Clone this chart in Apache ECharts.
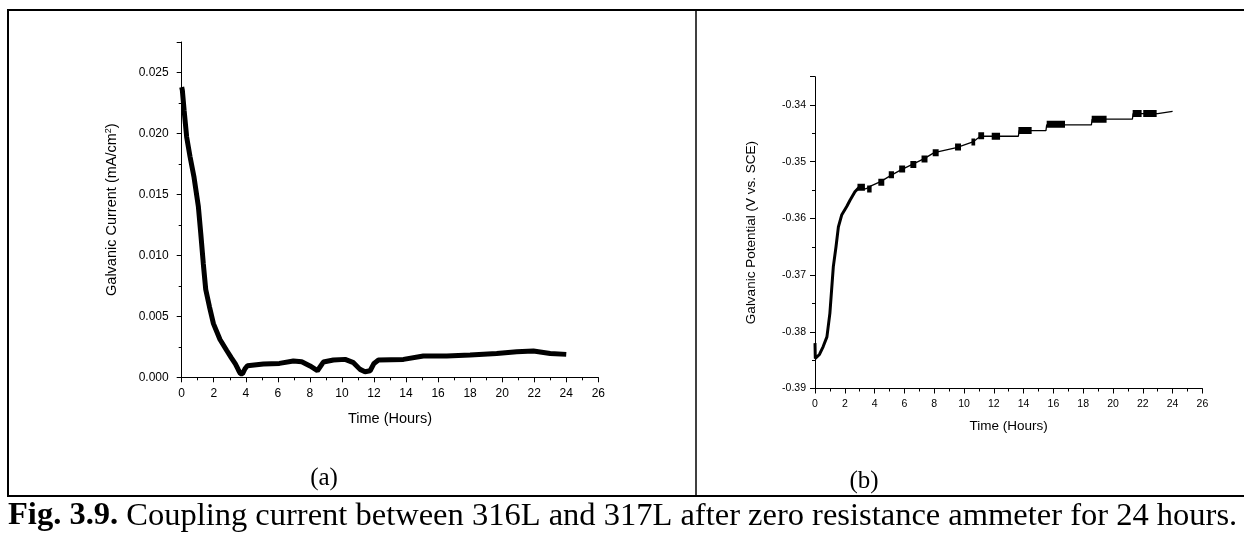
<!DOCTYPE html>
<html lang="en">
<head>
    <meta charset="UTF-8">
    <title>Fig 3.9</title>
    <style>
        html, body { margin: 0; padding: 0; background: #fff; }
    </style>
</head>
<body>
    <div id="main" style="width: 1244px;height:536px;"></div>
    <script src="https://cdn.jsdelivr.net/npm/echarts@6/dist/echarts.min.js"></script>
    <script type="text/javascript">
       // (a) galvanic current
       var curHours = [0, 0.04, 0.15, 0.31, 0.52, 0.77, 1.04, 1.19, 1.35, 1.5, 1.73, 1.98, 2.39, 2.81, 3.1, 3.35, 3.54, 3.66, 3.8, 3.95, 4.1, 5.1, 6.1, 6.97, 7.49, 8.01, 8.47, 8.84, 9.47, 10.2, 10.72, 11.13, 11.44, 11.76, 12.0, 12.28, 13.84, 15.08, 16.54, 18.0, 19.66, 20.91, 21.95, 23.0, 24.0];
       var curValues = [0.0238, 0.02355, 0.0219, 0.0197, 0.0181, 0.0164, 0.014, 0.0118, 0.0093, 0.0072, 0.0058, 0.0044, 0.0031, 0.0022, 0.0016, 0.0011, 0.0006, 0.0003, 0.0003, 0.0007, 0.00095, 0.00109, 0.00114, 0.00134, 0.00128, 0.00093, 0.00054, 0.00125, 0.00142, 0.00147, 0.0012, 0.00065, 0.00046, 0.00054, 0.00114, 0.00142, 0.00147, 0.00175, 0.00175, 0.00183, 0.00196, 0.0021, 0.00215, 0.00196, 0.00188];

       // (b) galvanic potential
       var potHours = [0, 0.02, 0.3, 0.55, 0.8, 1.0, 1.23, 1.41, 1.57, 1.79, 2.13, 2.35, 2.68, 3.0, 3.4, 3.65, 4.4, 5.1, 5.8, 6.5, 7.3, 8.0, 9.5, 10.6, 11.1, 13.65, 13.7, 15.5, 15.55, 18.55, 18.6, 21.3, 21.35, 23.0, 24.0];
       var potValues = [-0.382, -0.3847, -0.384, -0.3826, -0.3809, -0.3767, -0.3685, -0.365, -0.3615, -0.3594, -0.3579, -0.3568, -0.3553, -0.3544, -0.3548, -0.3544, -0.3535, -0.3524, -0.3514, -0.3505, -0.3495, -0.3484, -0.3475, -0.3465, -0.3455, -0.3455, -0.3445, -0.3445, -0.3435, -0.3435, -0.3425, -0.3425, -0.3415, -0.3415, -0.3411];
       // places where the reading flickers between two levels (start, end, level)
       var blockStart = [2.85, 3.5, 4.25, 4.95, 5.65, 6.4, 7.15, 7.9, 9.4, 10.5, 10.96, 11.86, 13.65, 15.55, 18.57, 21.32, 22.03];
       var blockEnd = [3.35, 3.8, 4.65, 5.3, 6.05, 6.8, 7.55, 8.3, 9.8, 10.75, 11.35, 12.42, 14.54, 16.78, 19.57, 21.92, 22.93];
       var blockLevel = [-0.3545, -0.3548, -0.3536, -0.3523, -0.3513, -0.3505, -0.3495, -0.3484, -0.3474, -0.3465, -0.3454, -0.3455, -0.3445, -0.3434, -0.3425, -0.3415, -0.3415];

       var hourTicks = 2;

       function pairs(xs, ys) {
           return xs.map(function (x, i) { return [x, ys[i]]; });
       }
       var blockData = [];
       blockStart.forEach(function (s, i) {
           blockData.push([s, blockLevel[i]], [blockEnd[i], blockLevel[i]], null);
       });

       var sans = 'Liberation Sans, Arial, sans-serif';
       var serif = 'Liberation Serif, Times New Roman, serif';

       function xAx(gi, fs, nameFs, margin, gap) {
           return {
               gridIndex: gi, type: 'value', min: 0, max: 26, interval: hourTicks,
               name: 'Time (Hours)', nameLocation: 'middle', nameGap: gap,
               nameTextStyle: { color: '#000', fontFamily: sans, fontSize: nameFs },
               axisLine: { show: true, onZero: false, lineStyle: { color: '#000', width: 1 } },
               axisTick: { show: true, inside: false, length: 5, lineStyle: { color: '#000' } },
               minorTick: { show: true, splitNumber: 2, length: 3, lineStyle: { color: '#000' } },
               axisLabel: { color: '#000', fontFamily: sans, fontSize: fs, margin: margin },
               splitLine: { show: false }
           };
       }

       var myChart = echarts.init(document.getElementById('main'));
       var option = {
           animation: false,
           backgroundColor: '#fff',
           grid: [
               { left: 181.7, top: 42, width: 416.6, height: 335.3 },
               { left: 815, top: 76.7, width: 387.4, height: 311.8 }
           ],
           xAxis: [xAx(0, 12, 14.5, 10, 34), xAx(1, 10.5, 13.5, 10, 31)],
           yAxis: [{
               gridIndex: 0, type: 'value', min: 0, max: 0.0275, interval: 0.005,
               name: 'Galvanic Current (mA/cm{sup|2})', nameLocation: 'middle', nameGap: 62,
               nameTextStyle: {
                   color: '#000', fontFamily: sans, fontSize: 14.5,
                   rich: { sup: { fontSize: 9, fontFamily: sans, color: '#000', verticalAlign: 'top', lineHeight: 16 } }
               },
               axisLine: { show: true, lineStyle: { color: '#000', width: 1 } },
               axisTick: { show: true, length: 5, lineStyle: { color: '#000' } },
               minorTick: { show: true, splitNumber: 2, length: 3, lineStyle: { color: '#000' } },
               axisLabel: {
                   color: '#000', fontFamily: sans, fontSize: 12, margin: 13, showMaxLabel: false,
                   formatter: function (v) { return v.toFixed(3); }
               },
               splitLine: { show: false }
           }, {
               gridIndex: 1, type: 'value', min: -0.39, max: -0.335, interval: 0.01,
               name: 'Galvanic Potential (V vs. SCE)', nameLocation: 'middle', nameGap: 57,
               nameTextStyle: { color: '#000', fontFamily: sans, fontSize: 13.5 },
               axisLine: { show: true, lineStyle: { color: '#000', width: 1 } },
               axisTick: { show: true, length: 5, lineStyle: { color: '#000' } },
               minorTick: { show: true, splitNumber: 2, length: 3, lineStyle: { color: '#000' } },
               axisLabel: {
                   color: '#000', fontFamily: sans, fontSize: 10.5, margin: 9, showMaxLabel: false,
                   formatter: function (v) { return v.toFixed(2); }
               },
               splitLine: { show: false }
           }],
           series: [{
               type: 'line', xAxisIndex: 0, yAxisIndex: 0, showSymbol: false,
               data: pairs(curHours, curValues),
               lineStyle: { color: '#000', width: 5 }
           }, {
               type: 'line', xAxisIndex: 1, yAxisIndex: 1, showSymbol: false,
               data: pairs(potHours, potValues),
               lineStyle: { color: '#000', width: 1.3 }
           }, {
               type: 'line', xAxisIndex: 1, yAxisIndex: 1, showSymbol: false,
               data: pairs(potHours.slice(0, 14), potValues.slice(0, 14)),
               lineStyle: { color: '#000', width: 3 }
           }, {
               type: 'line', xAxisIndex: 1, yAxisIndex: 1, showSymbol: false, connectNulls: false,
               data: blockData,
               lineStyle: { color: '#000', width: 7, cap: 'butt' }
           }],
           graphic: [
               { type: 'line', shape: { x1: 8, y1: 10, x2: 1244, y2: 10 }, style: { stroke: '#000', lineWidth: 2 } },
               { type: 'line', shape: { x1: 8, y1: 9, x2: 8, y2: 497 }, style: { stroke: '#000', lineWidth: 2 } },
               { type: 'line', shape: { x1: 696, y1: 10, x2: 696, y2: 496 }, style: { stroke: '#000', lineWidth: 1.5 } },
               { type: 'line', shape: { x1: 8, y1: 496, x2: 1244, y2: 496 }, style: { stroke: '#000', lineWidth: 2 } },
               { type: 'text', x: 324, y: 478, style: { text: '(a)', fill: '#000', font: '25px ' + serif, textAlign: 'center', textVerticalAlign: 'middle' } },
               { type: 'text', x: 864, y: 481, style: { text: '(b)', fill: '#000', font: '25px ' + serif, textAlign: 'center', textVerticalAlign: 'middle' } },
               {
                   type: 'text', x: 8, y: 516,
                   style: {
                       text: '{b|Fig. 3.9.} Coupling current between 316L and 317L after zero resistance ammeter for 24 hours.',
                       fill: '#000', fontFamily: serif, fontSize: 32.5, textVerticalAlign: 'middle',
                       rich: { b: { fontWeight: 'bold', fontFamily: serif, fontSize: 32.5, fill: '#000' } }
                   }
               }
           ]
       };
       myChart.setOption(option);
    </script>
</body>
</html>
